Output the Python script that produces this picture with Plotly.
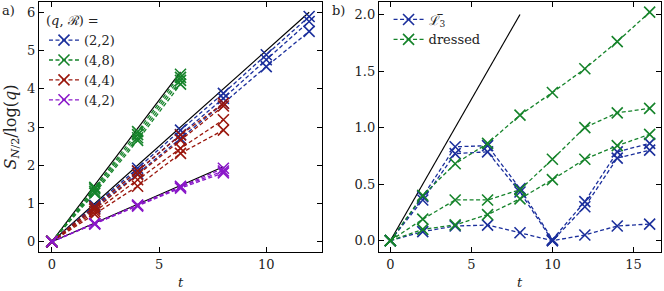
import plotly.graph_objects as go

# ---------------- data ----------------
# panel a)
t_22 = [0, 2, 4, 6, 8, 10, 12]
s_22 = [
    [0, 0.95, 1.92, 2.92, 3.88, 4.89, 5.89],
    [0, 0.92, 1.85, 2.80, 3.75, 4.76, 5.76],
    [0, 0.88, 1.78, 2.70, 3.62, 4.58, 5.50],
]
t_48 = [0, 2, 4, 6]
s_48 = [
    [0, 1.42, 2.88, 4.38],
    [0, 1.38, 2.80, 4.30],
    [0, 1.32, 2.72, 4.22],
    [0, 1.27, 2.65, 4.12],
]
t_44 = [0, 2, 4, 6, 8]
s_44 = [
    [0, 0.92, 1.85, 2.79, 3.62],
    [0, 0.85, 1.75, 2.66, 3.55],
    [0, 0.79, 1.62, 2.44, 3.19],
    [0, 0.72, 1.45, 2.31, 2.92],
]
t_42 = [0, 2, 4, 6, 8]
s_42 = [
    [0, 0.48, 0.96, 1.45, 1.92],
    [0, 0.47, 0.95, 1.43, 1.85],
    [0, 0.46, 0.93, 1.40, 1.80],
]
# black reference lines panel a: (t values, y values)
ref_a_t = [[0, 6], [0, 12], [0, 8]]
ref_a_y = [[0, 4.44], [0, 6.0], [0, 1.96]]

# panel b)
t_b = [0, 2, 4, 6, 8, 10, 12, 14, 16]
l3 = [
    [0, 0.39, 0.83, 0.84, 0.46, 0.01, 0.345, 0.785, 0.86],
    [0, 0.36, 0.77, 0.785, 0.43, 0.0, 0.30, 0.73, 0.80],
    [0, 0.08, 0.13, 0.138, 0.07, 0.0, 0.05, 0.13, 0.147],
]
dressed = [
    [0, 0.40, 0.68, 0.86, 1.11, 1.31, 1.52, 1.76, 2.02],
    [0, 0.19, 0.36, 0.36, 0.45, 0.72, 1.00, 1.13, 1.17],
    [0, 0.10, 0.14, 0.23, 0.37, 0.54, 0.72, 0.84, 0.94],
]
ref_b_t = [0, 8]
ref_b_y = [0, 2.0]

labels_a = ["(2,2)", "(4,8)", "(4,4)", "(4,2)"]

BLUE = "#1b2f9c"
GREEN = "#15832a"
RED = "#9a160c"
PURPLE = "#8a18c9"
FONT = "DejaVu Serif"
FS = 13

fig = go.Figure()


def add_group(t, ys, color, name, xaxis, yaxis, legend):
    for i, y in enumerate(ys):
        fig.add_trace(go.Scatter(
            x=t, y=y, mode="lines+markers", name=name,
            legendgroup=name + legend, showlegend=(i == 0), legend=legend,
            line=dict(color=color, width=1.3, dash="4px,2.5px"),
            marker=dict(symbol="x-thin", size=11, line=dict(color=color, width=1.6)),
            xaxis=xaxis, yaxis=yaxis,
        ))


for tt, yy in zip(ref_a_t, ref_a_y):
    fig.add_trace(go.Scatter(x=tt, y=yy, mode="lines", line=dict(color="black", width=1.2),
                             showlegend=False, xaxis="x", yaxis="y"))

add_group(t_22, s_22, BLUE, labels_a[0], "x", "y", "legend")
add_group(t_48, s_48, GREEN, labels_a[1], "x", "y", "legend")
add_group(t_44, s_44, RED, labels_a[2], "x", "y", "legend")
add_group(t_42, s_42, PURPLE, labels_a[3], "x", "y", "legend")

fig.add_trace(go.Scatter(x=ref_b_t, y=ref_b_y, mode="lines", line=dict(color="black", width=1.2),
                         showlegend=False, xaxis="x2", yaxis="y2"))
add_group(t_b, l3, BLUE, "ℒ\u0305<sub>3</sub>", "x2", "y2", "legend2")
add_group(t_b, dressed, GREEN, "dressed", "x2", "y2", "legend2")

axis_common = dict(
    showline=True, linecolor="black", linewidth=1.2, mirror="ticks",
    ticks="inside", ticklen=5, tickwidth=1, tickcolor="black",
    showgrid=False, zeroline=False,
    tickfont=dict(family=FONT, size=FS, color="#222"),
)

fig.update_layout(
    width=664, height=291,
    margin=dict(l=39, r=3, t=2, b=39),
    paper_bgcolor="white", plot_bgcolor="white",
    font=dict(family=FONT, size=FS, color="#222"),
    xaxis=dict(domain=[0, 0.455], range=[-0.6, 12.6], tickvals=[0, 5, 10],
               anchor="y", **axis_common),
    yaxis=dict(domain=[0, 1], range=[-0.27, 6.27], tickvals=[0, 1, 2, 3, 4, 5, 6],
               title=dict(text="<i>S</i><sub><i>N</i>/2</sub>/log(<i>q</i>)", standoff=6),
               anchor="x", **axis_common),
    xaxis2=dict(domain=[0.5466, 1], range=[-0.7, 16.7], tickvals=[0, 5, 10, 15],
                anchor="y2", **axis_common),
    yaxis2=dict(domain=[0, 1], range=[-0.1, 2.11], tickvals=[0, 0.5, 1.0, 1.5, 2.0],
                tickformat=".1f", anchor="x2", **axis_common),
    legend=dict(x=0.008, y=0.975, xanchor="left", yanchor="top",
                bgcolor="rgba(0,0,0,0)", borderwidth=0, tracegroupgap=0,
                title=dict(text="(<i>q</i>, ℛ) =", font=dict(family=FONT, size=FS)),
                font=dict(family=FONT, size=FS), itemwidth=30),
    legend2=dict(x=0.562, y=0.99, xanchor="left", yanchor="top",
                 bgcolor="rgba(0,0,0,0)", borderwidth=0, tracegroupgap=0,
                 font=dict(family=FONT, size=FS), itemwidth=30),
    annotations=[
        dict(text="a)", x=-0.062, y=0.965, xref="paper", yref="paper", showarrow=False,
             xanchor="left", yanchor="middle", font=dict(family=FONT, size=FS)),
        dict(text="b)", x=0.468, y=0.965, xref="paper", yref="paper", showarrow=False,
             xanchor="left", yanchor="middle", font=dict(family=FONT, size=FS)),
        dict(text="<i>t</i>", x=0.2275, y=-0.12, xref="paper", yref="paper", showarrow=False,
             xanchor="center", yanchor="middle", font=dict(family=FONT, size=FS)),
        dict(text="<i>t</i>", x=0.7733, y=-0.12, xref="paper", yref="paper", showarrow=False,
             xanchor="center", yanchor="middle", font=dict(family=FONT, size=FS)),
    ],
)

fig.write_html("out.html", post_script="document.body.style.margin='0';",
               config={"displayModeBar": False})
